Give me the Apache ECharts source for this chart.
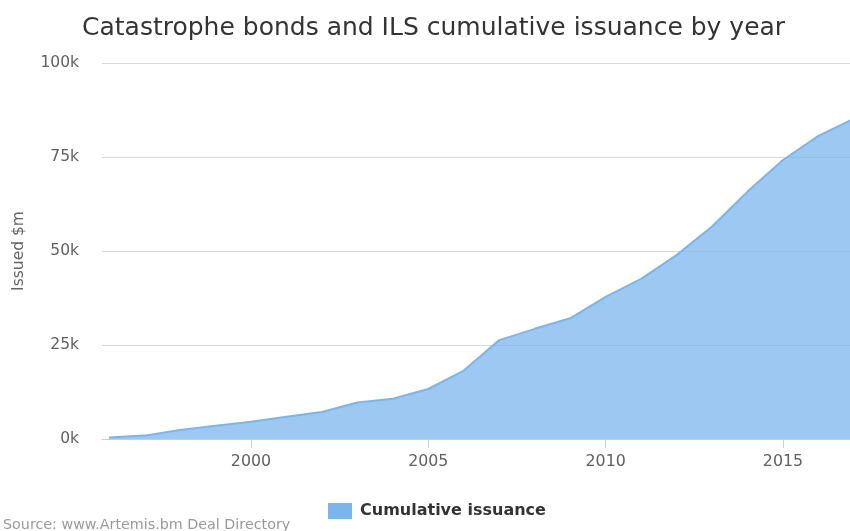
<!DOCTYPE html>
<html>
<head>
<meta charset="utf-8">
<script src="https://cdn.jsdelivr.net/npm/echarts@6/dist/echarts.min.js"></script>
<style>
html,body{margin:0;padding:0;background:#fff;}
#chart{width:850px;height:531px;}
</style>
</head>
<body>
<div id="chart"></div>
<script>
var years = [1996,1997,1998,1999,2000,2001,2002,2003,2004,2005,2006,2007,2008,2009,2010,2011,2012,2013,2014,2015,2016,2017];
var cumulativeIssuance = [400,900,2400,3500,4600,5900,7200,9700,10700,13300,18200,26300,29300,32100,37800,42600,48900,56500,65800,74200,80600,85200];
var xTickYears = [2000,2005,2010,2015];
var yTicks = [0,25000,50000,75000,100000];
var seriesName = 'Cumulative issuance';
var titleText = 'Catastrophe bonds and ILS cumulative issuance by year';
var yAxisTitle = 'Issued $m';
var creditText = 'Source: www.Artemis.bm Deal Directory';

var FONT = 'DejaVu Sans';
var chart = echarts.init(document.getElementById('chart'), null, {renderer: 'canvas'});
var data = years.map(function (y, i) { return [y, cumulativeIssuance[i]]; });

chart.setOption({
  animation: false,
  backgroundColor: '#ffffff',
  textStyle: {fontFamily: FONT},
  title: {
    text: titleText,
    left: 77,
    top: 11,
    textStyle: {fontFamily: FONT, fontSize: 25, fontWeight: 'normal', color: '#333333'}
  },
  legend: {
    data: [{name: seriesName, icon: 'rect'}],
    left: 323,
    top: 498,
    itemWidth: 24,
    itemHeight: 16,
    textStyle: {fontFamily: FONT, fontSize: 16, fontWeight: 'bold', color: '#333333', padding: [0, 0, 0, 3]}
  },
  grid: {left: 102, right: 0, top: 63, bottom: 92, containLabel: false, outerBoundsMode: 'none'},
  xAxis: {
    type: 'value',
    min: 1995.8,
    max: 2016.89,
    splitLine: {show: false},
    axisLine: {show: true, lineStyle: {color: '#C0D0E0', width: 1}},
    axisTick: {show: true, length: 9, customValues: xTickYears, lineStyle: {color: '#C0D0E0'}},
    axisLabel: {customValues: xTickYears, fontFamily: FONT, fontSize: 15.8, color: '#606060', margin: 15,
      formatter: function (v) { return String(Math.round(v)); }}
  },
  yAxis: {
    type: 'value',
    min: 0,
    max: 100000,
    interval: 25000,
    name: yAxisTitle,
    nameLocation: 'middle',
    nameGap: 75,
    nameTextStyle: {fontFamily: FONT, fontSize: 15.5, color: '#666666'},
    axisLine: {show: false},
    axisTick: {show: false},
    splitLine: {lineStyle: {color: '#D8D8D8', width: 1}},
    axisLabel: {fontFamily: FONT, fontSize: 15.5, color: '#606060', margin: 23,
      formatter: function (v) { return (v / 1000) + 'k'; }}
  },
  series: [{
    name: seriesName,
    type: 'line',
    data: data,
    showSymbol: false,
    symbol: 'none',
    clip: true,
    color: '#7cb5ec',
    lineStyle: {color: '#7cb5ec', width: 2},
    areaStyle: {color: '#7cb5ec', opacity: 0.75}
  }],
  graphic: [{
    type: 'text',
    left: 3,
    top: 518,
    style: {text: creditText, fontFamily: FONT, fontSize: 14.3, fill: '#999999'}
  }]
});
</script>
</body>
</html>
